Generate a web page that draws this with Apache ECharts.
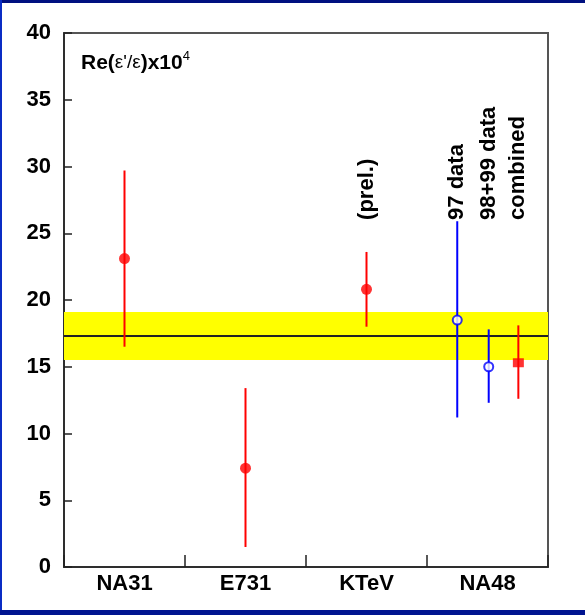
<!DOCTYPE html>
<html>
<head>
<meta charset="utf-8">
<script src="https://cdn.jsdelivr.net/npm/echarts@6/dist/echarts.min.js"></script>
<style>
html,body{margin:0;padding:0;background:#fff;}
#chart{width:585px;height:615px;}
</style>
</head>
<body>
<div id="chart"></div>
<script>
// ---- data ----
const categories = ['NA31', 'E731', 'KTeV', 'NA48'];
const yTicks = [0, 5, 10, 15, 20, 25, 30, 35, 40];
const pointNames = ['NA31', 'E731', 'KTeV', '97 data', '98+99 data', 'combined'];
const pointX = [0.5, 1.5, 2.5, 3.25, 3.51, 3.755];   // position along the category scale
const values = [23.1, 7.4, 20.8, 18.5, 15.0, 15.3];
const errLow = [6.6, 5.9, 2.8, 7.3, 2.7, 2.7];
const errHigh = [6.6, 6.0, 2.8, 7.4, 2.8, 2.8];
const annotations = ['', '', '(prel.)', '97 data', '98+99 data', 'combined'];
const annotationBase = 26;          // value where the rotated notes start
const openPoints = ['97 data', '98+99 data'];  // hollow blue markers
const squarePoints = ['combined'];
const worldAverage = 17.3;
const bandLow = 15.5;
const bandHigh = 19.1;

const RED = '#ff0000', BLUE = '#0000ff';
const FONT = 'Liberation Sans, Arial, Helvetica, sans-serif';

const chart = echarts.init(document.getElementById('chart'), null, {renderer: 'canvas'});

const rows = pointNames.map((n, i) => ({
  name: n, x: pointX[i], v: values[i],
  lo: values[i] - errLow[i], hi: values[i] + errHigh[i],
  note: annotations[i],
  open: openPoints.includes(n), square: squarePoints.includes(n)
}));

const errData = rows.map(r => [r.x, r.lo, r.hi, r.open ? 1 : 0, r.note]);

const option = {
  animation: false,
  backgroundColor: '#ffffff',
  grid: {left: 64, top: 33, right: 37, bottom: 48, show: true, borderColor: '#555', borderWidth: 2, backgroundColor: 'transparent'},
  title: {
    text: '{b|Re(}{r|ε\'/ε}{b|)x10}{s|4}',
    left: 76, top: 45,
    textStyle: {
      rich: {
        b: {fontFamily: FONT, fontWeight: 'bold', fontSize: 21, color: '#000', lineHeight: 26},
        r: {fontFamily: FONT, fontWeight: 'normal', fontSize: 19, color: '#000', lineHeight: 26},
        s: {fontFamily: FONT, fontWeight: 'normal', fontSize: 13, color: '#000', verticalAlign: 'top', lineHeight: 26}
      }
    }
  },
  xAxis: [
    {
      type: 'category', data: categories, boundaryGap: true, gridIndex: 0,
      axisLine: {show: true, lineStyle: {color: '#222', width: 1.5}},
      axisTick: {show: true, inside: true, length: 12, alignWithLabel: false, lineStyle: {color: '#222', width: 1.5}},
      axisLabel: {fontFamily: FONT, fontWeight: 'bold', fontSize: 22, color: '#000', margin: 6},
      splitLine: {show: false}
    },
    {
      type: 'value', min: 0, max: 4, gridIndex: 0, show: false
    }
  ],
  yAxis: {
    type: 'value', min: yTicks[0], max: yTicks[yTicks.length - 1], interval: 5,
    axisLine: {show: true, lineStyle: {color: '#222', width: 1.5}},
    axisTick: {show: true, inside: true, length: 8, lineStyle: {color: '#222', width: 1.5}},
    axisLabel: {fontFamily: FONT, fontWeight: 'bold', fontSize: 22, color: '#000', margin: 13},
    splitLine: {show: false}
  },
  graphic: [
    {type: 'rect', left: 0, top: 0, shape: {width: 585, height: 3}, style: {fill: '#001080'}, z: 100},
    {type: 'rect', left: 0, top: 0, shape: {width: 2, height: 615}, style: {fill: '#0a2cc4'}, z: 100},
    {type: 'rect', left: 0, top: 610, shape: {width: 585, height: 5}, style: {fill: '#001490'}, z: 100}
  ],
  series: [
    {
      type: 'line', xAxisIndex: 1, data: [], z: 1, silent: true,
      markArea: {
        silent: true,
        itemStyle: {color: '#ffff00', opacity: 1},
        data: [[{yAxis: bandLow, xAxis: 0}, {yAxis: bandHigh, xAxis: 4}]]
      },
      markLine: {
        silent: true, symbol: ['none', 'none'], label: {show: false},
        lineStyle: {color: '#222', width: 2, type: 'solid'},
        data: [[{yAxis: worldAverage, xAxis: 0}, {yAxis: worldAverage, xAxis: 4}]]
      }
    },
    {
      type: 'custom', xAxisIndex: 1, z: 5, data: errData,
      renderItem: function (params, api) {
        const x = api.value(0);
        const p1 = api.coord([x, api.value(1)]);
        const p2 = api.coord([x, api.value(2)]);
        const color = api.value(3) ? BLUE : RED;
        const note = errData[params.dataIndex][4];
        const children = [{
          type: 'line',
          shape: {x1: p1[0], y1: p1[1], x2: p2[0], y2: p2[1]},
          style: {stroke: color, lineWidth: 2}
        }];
        if (note) {
          const pb = api.coord([x, annotationBase]);
          children.push({
            type: 'text', x: pb[0], y: pb[1], rotation: Math.PI / 2,
            style: {text: note, fill: '#000', font: 'bold 22px ' + FONT, align: 'left', verticalAlign: 'middle'}
          });
        }
        return {type: 'group', children: children};
      }
    },
    {
      type: 'scatter', xAxisIndex: 1, z: 10,
      data: rows.filter(r => !r.open && !r.square).map(r => [r.x, r.v]),
      symbol: 'circle', symbolSize: 11,
      itemStyle: {color: RED}
    },
    {
      type: 'scatter', xAxisIndex: 1, z: 10,
      data: rows.filter(r => r.square).map(r => [r.x, r.v]),
      symbol: 'rect', symbolSize: [11, 9],
      itemStyle: {color: RED}
    },
    {
      type: 'scatter', xAxisIndex: 1, z: 10,
      data: rows.filter(r => r.open).map(r => [r.x, r.v]),
      symbol: 'circle', symbolSize: 9,
      itemStyle: {color: '#ffffff', borderColor: BLUE, borderWidth: 2}
    }
  ]
};
chart.setOption(option);
</script>
</body>
</html>
